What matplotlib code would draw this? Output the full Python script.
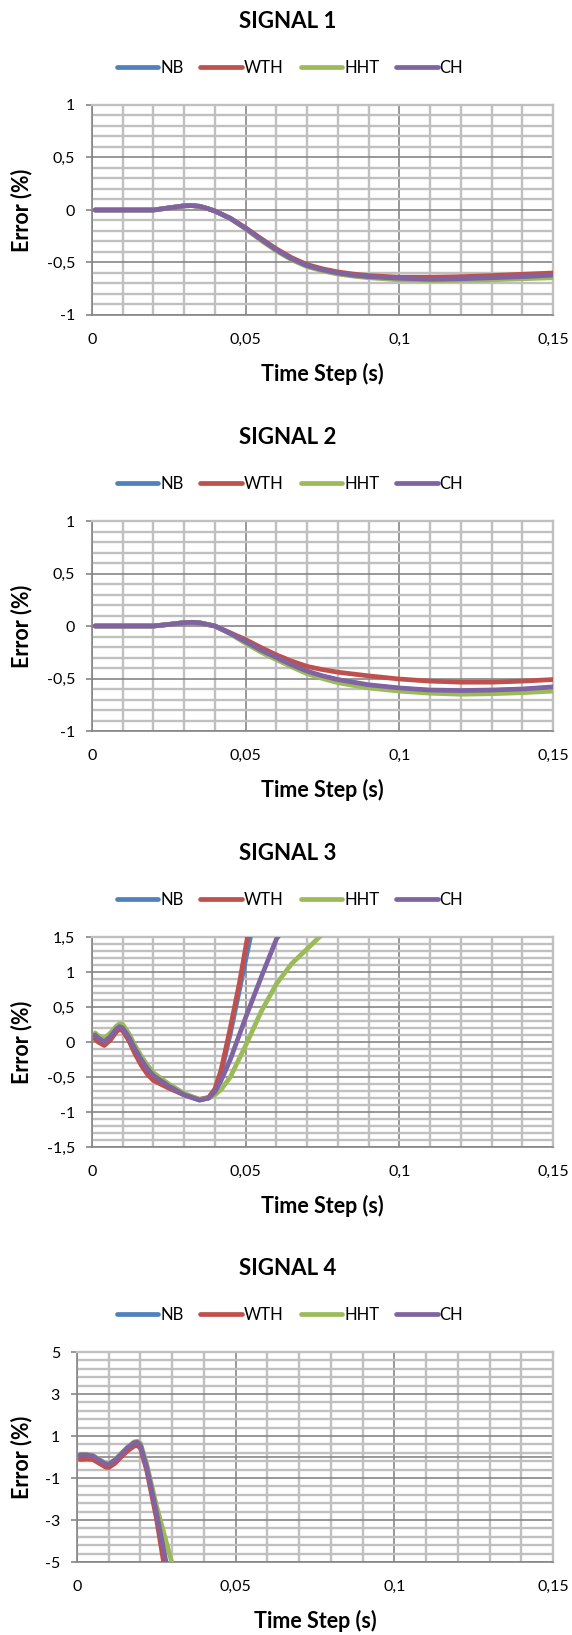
import numpy as np
import matplotlib
matplotlib.use("Agg")
import matplotlib.pyplot as plt
from matplotlib.ticker import FixedLocator
from matplotlib.lines import Line2D

plt.rcParams['font.family'] = ['Lato', 'DejaVu Sans']

series_names = ['NB', 'WTH', 'HHT', 'CH']
series_colors = ['#4F81BD', '#C0504D', '#9BBB59', '#8064A2']

x_ticks = [0, 0.05, 0.1, 0.15]
x_tick_labels = ['0', '0,05', '0,1', '0,15']

# ---- Signal 1 ----
s1_t = [0.001, 0.005, 0.01, 0.015, 0.02, 0.025, 0.03, 0.0325, 0.035, 0.0375, 0.04, 0.045,
        0.05, 0.055, 0.06, 0.065, 0.07, 0.075, 0.08, 0.085, 0.09, 0.1, 0.11, 0.12, 0.13, 0.14, 0.15]
s1_nb = [0, 0, 0, 0, 0, 0.02, 0.04, 0.042, 0.035, 0.015, -0.01, -0.08,
         -0.175, -0.28, -0.382, -0.468, -0.532, -0.573, -0.603, -0.623, -0.638, -0.653, -0.662, -0.658, -0.648, -0.638, -0.623]
s1_wth = [0, 0, 0, 0, 0, 0.02, 0.04, 0.042, 0.035, 0.015, -0.01, -0.078,
          -0.17, -0.272, -0.37, -0.455, -0.52, -0.56, -0.59, -0.61, -0.625, -0.64, -0.64, -0.635, -0.625, -0.612, -0.6]
s1_hht = [0, 0, 0, 0, 0, 0.02, 0.04, 0.042, 0.035, 0.015, -0.01, -0.082,
          -0.18, -0.29, -0.39, -0.475, -0.54, -0.58, -0.61, -0.63, -0.645, -0.665, -0.672, -0.67, -0.665, -0.655, -0.645]
s1_ch = [0, 0, 0, 0, 0, 0.02, 0.04, 0.042, 0.035, 0.015, -0.01, -0.08,
         -0.175, -0.28, -0.38, -0.465, -0.53, -0.57, -0.6, -0.62, -0.635, -0.65, -0.66, -0.655, -0.645, -0.635, -0.62]

# ---- Signal 2 ----
s2_t = [0.001, 0.005, 0.01, 0.015, 0.02, 0.025, 0.03, 0.0325, 0.035, 0.0375, 0.04, 0.045,
        0.05, 0.055, 0.06, 0.065, 0.07, 0.075, 0.08, 0.09, 0.1, 0.11, 0.12, 0.13, 0.14, 0.15]
s2_nb = [0, 0, 0, 0, 0, 0.015, 0.032, 0.035, 0.03, 0.015, 0, -0.07,
         -0.152, -0.235, -0.305, -0.375, -0.435, -0.48, -0.515, -0.565, -0.595, -0.615, -0.62, -0.615, -0.605, -0.585]
s2_wth = [0, 0, 0, 0, 0, 0.015, 0.032, 0.035, 0.03, 0.015, 0, -0.065,
          -0.13, -0.205, -0.275, -0.335, -0.385, -0.415, -0.44, -0.475, -0.505, -0.525, -0.535, -0.535, -0.525, -0.51]
s2_hht = [0, 0, 0, 0, 0, 0.015, 0.032, 0.035, 0.03, 0.015, 0, -0.075,
          -0.165, -0.25, -0.32, -0.39, -0.455, -0.5, -0.54, -0.59, -0.62, -0.64, -0.65, -0.645, -0.635, -0.62]
s2_ch = [0, 0, 0, 0, 0, 0.015, 0.032, 0.035, 0.03, 0.015, 0, -0.07,
         -0.15, -0.23, -0.3, -0.37, -0.43, -0.475, -0.51, -0.56, -0.59, -0.61, -0.615, -0.61, -0.6, -0.58]

# ---- Signal 3 ----
s3_t_early = [0.001, 0.002, 0.004, 0.006, 0.008, 0.009, 0.01, 0.012, 0.014, 0.016, 0.018, 0.02,
              0.025, 0.03, 0.035, 0.038, 0.04]
s3_nb_t = s3_t_early + [0.042, 0.045, 0.048, 0.052]
s3_nb = [0.08, 0.04, -0.01, 0.06, 0.18, 0.21, 0.19, 0.05, -0.12, -0.27, -0.4, -0.5,
         -0.64, -0.755, -0.83, -0.8, -0.69, -0.45, 0.12, 0.75, 1.6]
s3_wth_t = s3_t_early + [0.042, 0.045, 0.048, 0.051]
s3_wth = [0.04, 0.0, -0.05, 0.03, 0.15, 0.18, 0.16, 0.02, -0.17, -0.33, -0.46, -0.55,
          -0.66, -0.755, -0.82, -0.79, -0.67, -0.4, 0.2, 0.85, 1.6]
s3_hht_t = s3_t_early + [0.042, 0.045, 0.05, 0.055, 0.06, 0.065, 0.07, 0.074, 0.076]
s3_hht = [0.13, 0.09, 0.05, 0.13, 0.23, 0.26, 0.25, 0.12, -0.05, -0.2, -0.33, -0.44,
          -0.6, -0.735, -0.82, -0.8, -0.755, -0.68, -0.5, -0.05, 0.43, 0.83, 1.12, 1.33, 1.5, 1.58]
s3_ch_t = s3_t_early + [0.042, 0.045, 0.05, 0.055, 0.06, 0.062]
s3_ch = [0.1, 0.06, 0.0, 0.08, 0.19, 0.22, 0.2, 0.07, -0.1, -0.25, -0.38, -0.48,
         -0.63, -0.755, -0.83, -0.8, -0.71, -0.55, -0.25, 0.35, 0.92, 1.47, 1.6]

# ---- Signal 4 ----
s4_t_early = [0.001, 0.003, 0.005, 0.007, 0.009, 0.01, 0.012, 0.014, 0.016, 0.018, 0.019, 0.02,
              0.022, 0.025]
s4_nb_t = s4_t_early + [0.028]
s4_nb = [0.05, 0.05, 0.0, -0.2, -0.38, -0.4, -0.2, 0.1, 0.4, 0.63, 0.65, 0.5, -0.55, -2.7, -5.2]
s4_wth_t = s4_t_early + [0.0275]
s4_wth = [-0.12, -0.1, -0.12, -0.3, -0.48, -0.5, -0.3, 0.02, 0.3, 0.52, 0.55, 0.42, -0.65, -2.9, -5.2]
s4_hht_t = s4_t_early + [0.0302]
s4_hht = [0.12, 0.12, 0.07, -0.12, -0.3, -0.32, -0.12, 0.18, 0.48, 0.72, 0.75, 0.65, -0.35, -2.3, -5.2]
s4_ch_t = s4_t_early + [0.0283]
s4_ch = [0.1, 0.1, 0.05, -0.15, -0.33, -0.35, -0.15, 0.15, 0.45, 0.68, 0.7, 0.55, -0.5, -2.6, -5.2]

signals = [
    ('SIGNAL 1', [(s1_t, s1_nb), (s1_t, s1_wth), (s1_t, s1_hht), (s1_t, s1_ch)],
     [-1, 1], [-1, -0.5, 0, 0.5, 1], ['-1', '-0,5', '0', '0,5', '1'], 0.1),
    ('SIGNAL 2', [(s2_t, s2_nb), (s2_t, s2_wth), (s2_t, s2_hht), (s2_t, s2_ch)],
     [-1, 1], [-1, -0.5, 0, 0.5, 1], ['-1', '-0,5', '0', '0,5', '1'], 0.1),
    ('SIGNAL 3', [(s3_nb_t, s3_nb), (s3_wth_t, s3_wth), (s3_hht_t, s3_hht), (s3_ch_t, s3_ch)],
     [-1.5, 1.5], [-1.5, -1, -0.5, 0, 0.5, 1, 1.5], ['-1,5', '-1', '-0,5', '0', '0,5', '1', '1,5'], 0.1),
    ('SIGNAL 4', [(s4_nb_t, s4_nb), (s4_wth_t, s4_wth), (s4_hht_t, s4_hht), (s4_ch_t, s4_ch)],
     [-5, 5], [-5, -3, -1, 1, 3, 5], ['-5', '-3', '-1', '1', '3', '5'], 0.4),
]

# layout in pixels (figure is 572 x 1635)
W, H = 572, 1635
tops = [105, 521, 937, 1352]
lefts = [92, 92, 92, 77]
right = 553
ax_h = 210

major_c = '#868686'
minor_c = '#C0C0C0'

fig = plt.figure(figsize=(W / 100, H / 100), dpi=100)

for i, (title, data, ylim, yticks, ylabels, ystep) in enumerate(signals):
    top, left = tops[i], lefts[i]
    ax = fig.add_axes([left / W, 1 - (top + ax_h) / H, (right - left) / W, ax_h / H])

    for (t, v), name, c in zip(data, series_names, series_colors):
        ax.plot(t, v, color=c, lw=3.4, label=name, solid_capstyle='round',
                solid_joinstyle='round', zorder=3)

    ax.set_xlim(0, 0.15)
    ax.set_ylim(*ylim)
    ax.set_xticks(x_ticks)
    ax.set_xticklabels(x_tick_labels)
    ax.set_yticks(yticks)
    ax.set_yticklabels(ylabels)
    ax.xaxis.set_minor_locator(FixedLocator(np.arange(0, 0.1501, 0.01)))
    ax.yaxis.set_minor_locator(FixedLocator(np.arange(ylim[0], ylim[1] + 1e-9, ystep)))

    ax.grid(which='minor', color=minor_c, lw=1.7, zorder=0)
    ax.grid(which='major', color=major_c, lw=1.2, zorder=1)
    ax.set_axisbelow(True)

    ax.tick_params(axis='x', which='both', length=0, pad=13, labelsize=11.5)
    ax.tick_params(axis='y', which='major', length=4.3, width=1.2, color=major_c,
                   direction='out', pad=8, labelsize=11.5)
    ax.tick_params(axis='y', which='minor', length=0)

    for side in ['left', 'bottom']:
        ax.spines[side].set_color(major_c)
        ax.spines[side].set_linewidth(1.2)
    for side in ['top', 'right']:
        ax.spines[side].set_color(minor_c)
        ax.spines[side].set_linewidth(1.7)

    if ylim[0] < 0 < ylim[1] and 0 not in yticks:
        ax.axhline(0, color=major_c, lw=1.2, zorder=1)

    fig.text(288 / W, 1 - (top - 84) / H, title, ha='center', va='center',
             fontsize=16, fontweight='bold')
    handles = [Line2D([], [], color=c, lw=3.4, solid_capstyle='round') for c in series_colors]
    ax.legend(handles, series_names, loc='center', bbox_to_anchor=(290 / W, 1 - (top - 37) / H),
              bbox_transform=fig.transFigure, ncol=4, frameon=False, fontsize=12,
              handlelength=2.5, handletextpad=0.12, columnspacing=1.0, borderaxespad=0)
    fig.text((left + right) / 2 / W, 1 - (top + ax_h + 59) / H, 'Time Step (s)',
             ha='center', va='center', fontsize=15.5, fontweight='bold')
    fig.text(22 / W, 1 - (top + ax_h / 2) / H, 'Error (%)', ha='center', va='center',
             rotation=90, fontsize=15.5, fontweight='bold')

fig.savefig('out.png', dpi=100, facecolor='white')
